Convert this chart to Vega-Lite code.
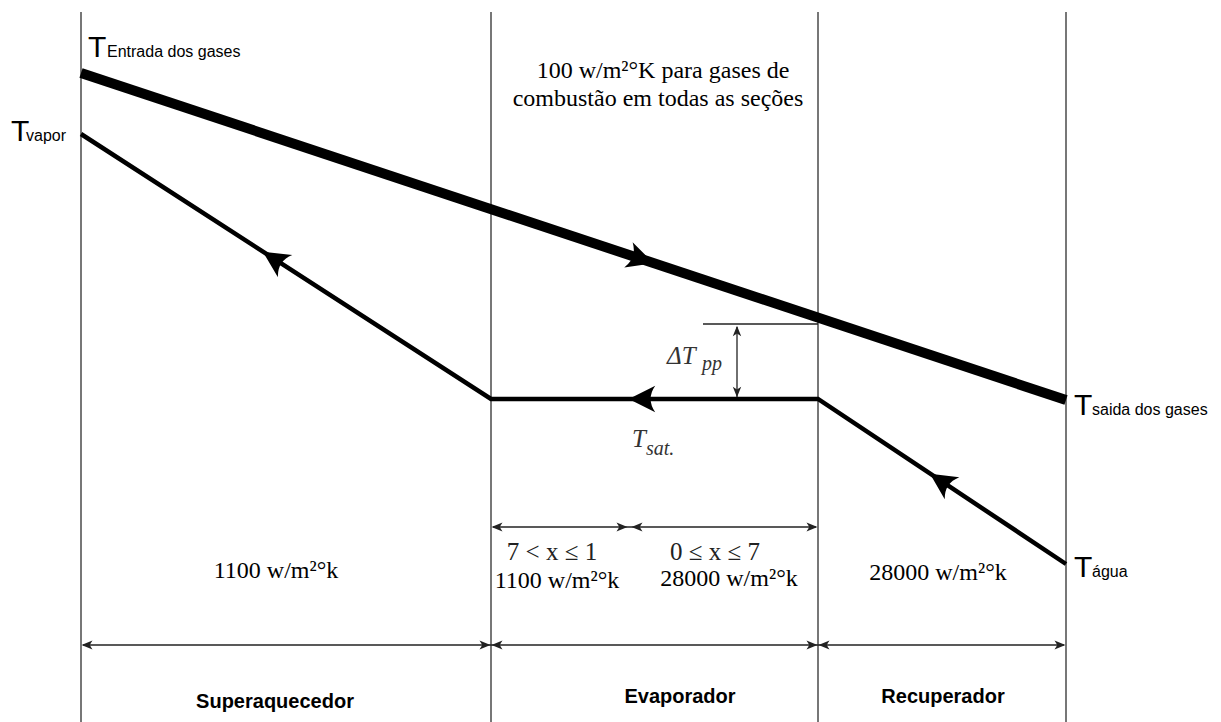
{
  "$schema": "https://vega.github.io/schema/vega-lite/v6.json",
  "width": 1221,
  "height": 722,
  "autosize": {"type": "none"},
  "padding": 0,
  "background": "white",
  "config": {"view": {"stroke": null}},
  "encoding": {
    "x": {"field": "x", "type": "quantitative", "scale": {"domain": [0, 1221], "nice": false, "zero": false}, "axis": null},
    "y": {"field": "y", "type": "quantitative", "scale": {"domain": [0, 722], "reverse": true, "nice": false, "zero": false}, "axis": null}
  },
  "layer": [
    {
      "data": {"values": [
        {"x": 81, "y": 12, "y2": 722},
        {"x": 491, "y": 12, "y2": 722},
        {"x": 818, "y": 12, "y2": 722},
        {"x": 1066, "y": 12, "y2": 722}
      ]},
      "mark": {"type": "rule", "color": "#555555", "strokeWidth": 1.6},
      "encoding": {"y2": {"field": "y2"}}
    },
    {
      "data": {"values": [
        {"x": 83, "y": 645, "x2": 1064, "y2": 645},
        {"x": 493, "y": 527, "x2": 816, "y2": 527},
        {"x": 703, "y": 324, "x2": 818, "y2": 324},
        {"x": 737, "y": 327, "x2": 737, "y2": 397}
      ]},
      "mark": {"type": "rule", "color": "#222222", "strokeWidth": 1.3},
      "encoding": {"x2": {"field": "x2"}, "y2": {"field": "y2"}}
    },
    {
      "data": {"values": [
        {"x": 81, "y": 73, "o": 1},
        {"x": 1066, "y": 400, "o": 2}
      ]},
      "mark": {"type": "line", "color": "black", "strokeWidth": 10, "strokeCap": "butt"},
      "encoding": {"order": {"field": "o"}}
    },
    {
      "data": {"values": [
        {"x": 81, "y": 134, "o": 1},
        {"x": 491, "y": 399, "o": 2},
        {"x": 818, "y": 399, "o": 3},
        {"x": 1066, "y": 564, "o": 4}
      ]},
      "mark": {"type": "line", "color": "black", "strokeWidth": 4.5, "strokeCap": "butt", "strokeJoin": "miter"},
      "encoding": {"order": {"field": "o"}}
    },
    {
      "data": {"values": [{"x": 641, "y": 259}]},
      "mark": {"type": "point", "filled": true, "color": "black", "opacity": 1, "size": 700, "angle": 18.4, "shape": "M1,0L-1,-1Q-0.3,0,-1,1Z"}
    },
    {
      "data": {"values": [{"x": 274, "y": 259}]},
      "mark": {"type": "point", "filled": true, "color": "black", "opacity": 1, "size": 700, "angle": 212.9, "shape": "M1,0L-1,-1Q-0.3,0,-1,1Z"}
    },
    {
      "data": {"values": [{"x": 642, "y": 399}]},
      "mark": {"type": "point", "filled": true, "color": "black", "opacity": 1, "size": 700, "angle": 180, "shape": "M1,0L-1,-1Q-0.3,0,-1,1Z"}
    },
    {
      "data": {"values": [{"x": 941, "y": 481}]},
      "mark": {"type": "point", "filled": true, "color": "black", "opacity": 1, "size": 700, "angle": 213.5, "shape": "M1,0L-1,-1Q-0.3,0,-1,1Z"}
    },
    {
      "data": {"values": [
        {"x": 87, "y": 645}, {"x": 497, "y": 645}, {"x": 824, "y": 645},
        {"x": 497, "y": 527}, {"x": 637, "y": 527}
      ]},
      "mark": {"type": "point", "filled": true, "color": "#222222", "opacity": 1, "size": 120, "angle": 180, "shape": "M1,0L-1,-0.8L-0.5,0L-1,0.8Z"}
    },
    {
      "data": {"values": [
        {"x": 485, "y": 645}, {"x": 812, "y": 645}, {"x": 1060, "y": 645},
        {"x": 622, "y": 527}, {"x": 812, "y": 527}
      ]},
      "mark": {"type": "point", "filled": true, "color": "#222222", "opacity": 1, "size": 120, "angle": 0, "shape": "M1,0L-1,-0.8L-0.5,0L-1,0.8Z"}
    },
    {
      "data": {"values": [{"x": 737, "y": 331}]},
      "mark": {"type": "point", "filled": true, "color": "#222222", "opacity": 1, "size": 110, "angle": 270, "shape": "M1,0L-1,-0.8L-0.5,0L-1,0.8Z"}
    },
    {
      "data": {"values": [{"x": 737, "y": 392}]},
      "mark": {"type": "point", "filled": true, "color": "#222222", "opacity": 1, "size": 110, "angle": 90, "shape": "M1,0L-1,-0.8L-0.5,0L-1,0.8Z"}
    },
    {
      "data": {"values": [
        {"x": 88, "y": 57, "t": "T"},
        {"x": 11, "y": 141, "t": "T"},
        {"x": 1074, "y": 415, "t": "T"},
        {"x": 1074, "y": 577, "t": "T"}
      ]},
      "mark": {"type": "text", "font": "Liberation Sans", "fontSize": 30, "align": "left", "baseline": "alphabetic", "color": "black"},
      "encoding": {"text": {"field": "t"}}
    },
    {
      "data": {"values": [
        {"x": 107, "y": 57, "t": "Entrada dos gases"},
        {"x": 26, "y": 141, "t": "vapor"},
        {"x": 1092, "y": 415, "t": "saida dos gases"},
        {"x": 1092, "y": 577, "t": "água"}
      ]},
      "mark": {"type": "text", "font": "Liberation Sans", "fontSize": 16, "align": "left", "baseline": "alphabetic", "color": "black"},
      "encoding": {"text": {"field": "t"}}
    },
    {
      "data": {"values": [
        {"x": 663, "y": 78, "t": "100 w/m²°K para gases de"},
        {"x": 658, "y": 106, "t": "combustão em todas as seções"},
        {"x": 276, "y": 578, "t": "1100 w/m²°k"},
        {"x": 557, "y": 588, "t": "1100 w/m²°k"},
        {"x": 729, "y": 586, "t": "28000 w/m²°k"},
        {"x": 938, "y": 580, "t": "28000 w/m²°k"}
      ]},
      "mark": {"type": "text", "font": "Liberation Serif", "fontSize": 24, "align": "center", "baseline": "alphabetic", "color": "black"},
      "encoding": {"text": {"field": "t"}}
    },
    {
      "data": {"values": [
        {"x": 552, "y": 560, "t": "7 < x ≤ 1"},
        {"x": 715, "y": 560, "t": "0 ≤ x ≤ 7"}
      ]},
      "mark": {"type": "text", "font": "Liberation Serif", "fontSize": 25, "align": "center", "baseline": "alphabetic", "color": "#222222"},
      "encoding": {"text": {"field": "t"}}
    },
    {
      "data": {"values": [
        {"x": 667, "y": 364, "t": "ΔT"},
        {"x": 632, "y": 447, "t": "T"}
      ]},
      "mark": {"type": "text", "font": "Liberation Serif", "fontSize": 25, "fontStyle": "italic", "align": "left", "baseline": "alphabetic", "color": "#333333"},
      "encoding": {"text": {"field": "t"}}
    },
    {
      "data": {"values": [
        {"x": 702, "y": 370, "t": "pp"},
        {"x": 646, "y": 455, "t": "sat."}
      ]},
      "mark": {"type": "text", "font": "Liberation Serif", "fontSize": 20, "fontStyle": "italic", "align": "left", "baseline": "alphabetic", "color": "#333333"},
      "encoding": {"text": {"field": "t"}}
    },
    {
      "data": {"values": [
        {"x": 275, "y": 708, "t": "Superaquecedor"},
        {"x": 680, "y": 703, "t": "Evaporador"},
        {"x": 943, "y": 703, "t": "Recuperador"}
      ]},
      "mark": {"type": "text", "font": "Liberation Sans", "fontSize": 20, "fontWeight": "bold", "align": "center", "baseline": "alphabetic", "color": "black"},
      "encoding": {"text": {"field": "t"}}
    }
  ]
}
